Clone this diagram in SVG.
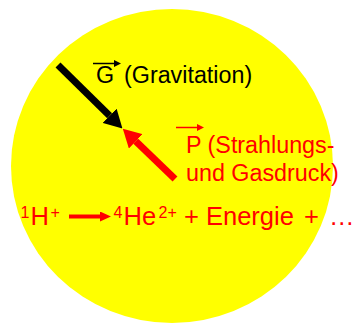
<svg xmlns="http://www.w3.org/2000/svg" width="355" height="324" viewBox="0 0 355 324">
<style>
text{font-family:"Liberation Sans",Arial,sans-serif}
.blk{fill:#000}
.red{fill:#FF0000}
.big{font-size:23.3px}
.eq{font-size:25.5px}
.sup{font-size:16px}
</style>
<defs>
<marker id="headBlk" viewBox="0 -10 18 20" refX="0" refY="0" markerWidth="18" markerHeight="20" markerUnits="userSpaceOnUse" orient="auto"><path d="M0,-10 L18,0 L0,10 z" fill="#000"/></marker>
<marker id="headRed" viewBox="0 -10 18 20" refX="0" refY="0" markerWidth="18" markerHeight="20" markerUnits="userSpaceOnUse" orient="auto"><path d="M0,-10 L18,0 L0,10 z" fill="#FF0000"/></marker>
<marker id="headEq" viewBox="0 -5 11 10" refX="0" refY="0" markerWidth="11" markerHeight="10" markerUnits="userSpaceOnUse" orient="auto"><path d="M0,-5 L11,0 L0,5 z" fill="#FF0000"/></marker>
<marker id="vecBlk" viewBox="0 -3.5 7 7" refX="0" refY="0" markerWidth="7" markerHeight="7" markerUnits="userSpaceOnUse" orient="auto"><path d="M0,-3.5 L7,0 L0,3.5 z" fill="#000"/></marker>
<marker id="vecRed" viewBox="0 -3.5 7 7" refX="0" refY="0" markerWidth="7" markerHeight="7" markerUnits="userSpaceOnUse" orient="auto"><path d="M0,-3.5 L7,0 L0,3.5 z" fill="#FF0000"/></marker>
</defs>
<g id="sun">
<ellipse cx="172" cy="166" rx="161" ry="157" fill="#FFFF00"/>
</g>
<g id="connectors">
<line x1="58" y1="65" x2="109.6" y2="115.8" stroke="#000" stroke-width="7" marker-end="url(#headBlk)"/>
<line x1="175" y1="179" x2="135.8" y2="141.3" stroke="#FF0000" stroke-width="7" marker-end="url(#headRed)"/>
<line x1="69" y1="216.5" x2="100" y2="216.5" stroke="#FF0000" stroke-width="4" marker-end="url(#headEq)"/>
</g>
<g id="gravitation">
<line x1="93" y1="63.5" x2="114" y2="63.5" stroke="#000" stroke-width="1.5" marker-end="url(#vecBlk)"/>
<text class="big blk" x="96" y="83">G</text>
<text class="big blk" x="124" y="83">(Gravitation)</text>
</g>
<g id="pressure">
<line x1="176" y1="127.5" x2="197" y2="127.5" stroke="#FF0000" stroke-width="1.5" marker-end="url(#vecRed)"/>
<text class="big red" x="186" y="153">P (Strahlungs-</text>
<text class="big red" x="186" y="180.5">und Gasdruck)</text>
</g>
<g id="equation">
<text class="sup red" x="20.5" y="217.5">1</text>
<text class="eq red" x="30.5" y="225">H</text>
<text class="sup red" x="50.5" y="217.5">+</text>
<text class="sup red" x="113.5" y="217.5">4</text>
<text class="eq red" x="123.5" y="225">He</text>
<text class="sup red" x="158.5" y="217.5">2+</text>
<text class="eq red" x="184" y="225">+</text>
<text class="eq red" x="206" y="225">Energie</text>
<text class="eq red" x="304" y="225">+</text>
<text class="eq red" x="329" y="225">…</text>
</g>
</svg>
